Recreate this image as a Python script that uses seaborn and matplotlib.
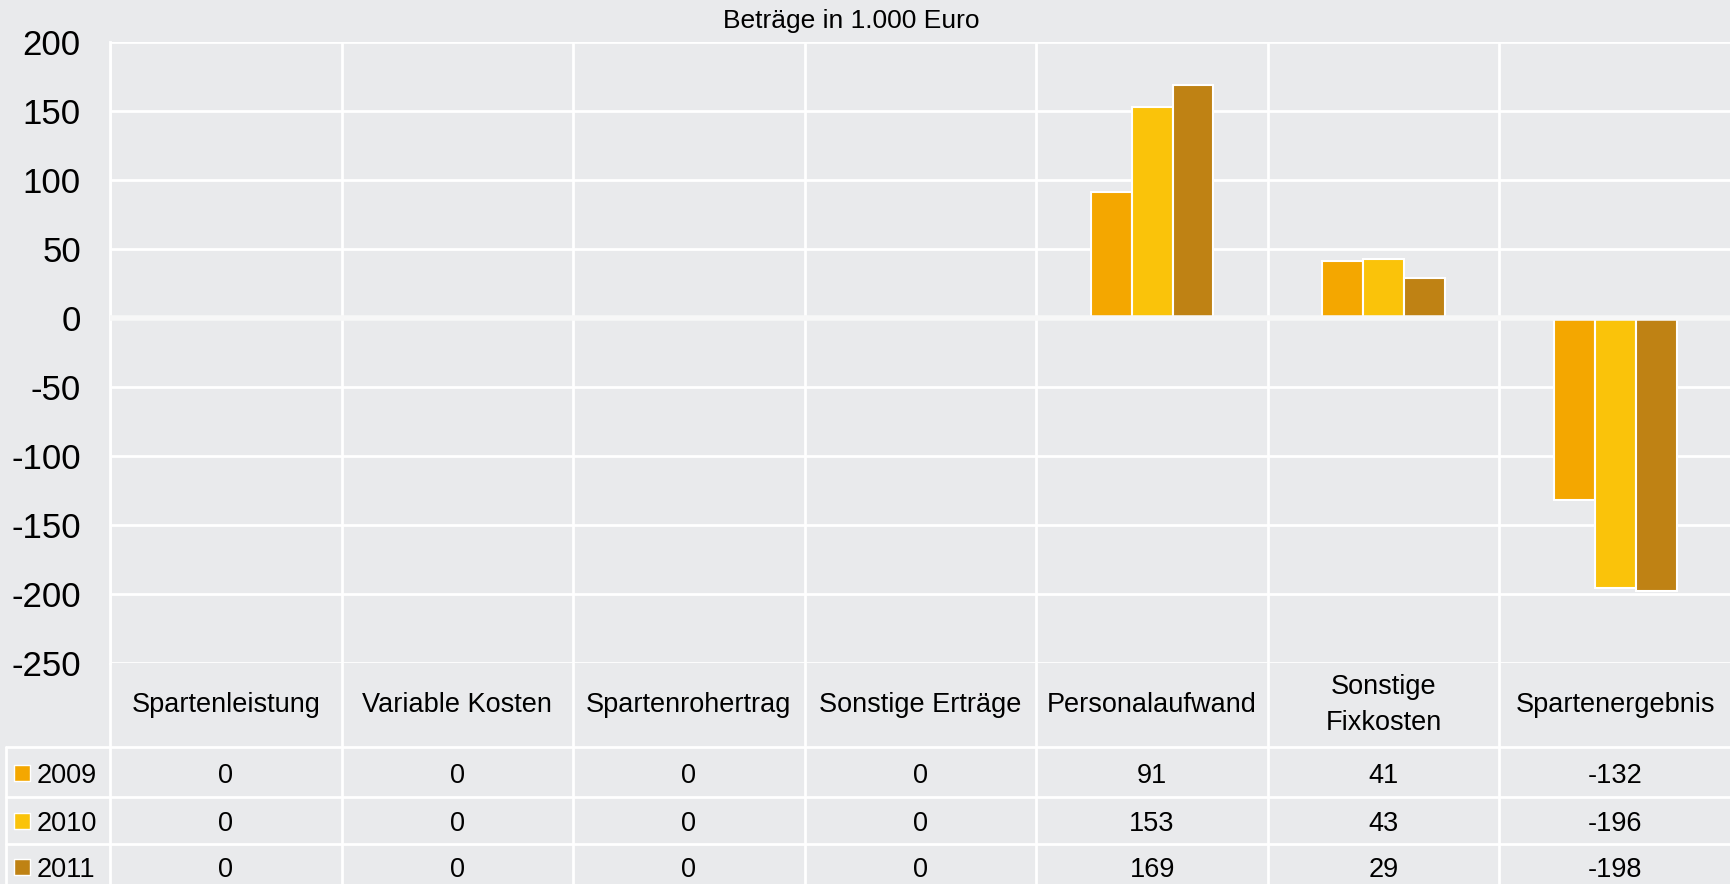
import matplotlib as mpl
import numpy as np
import seaborn as sns
import matplotlib.pyplot as plt
import pandas as pd

sns.set_style('darkgrid', {"axes.facecolor": "#E9EAEC", "figure.facecolor": "#E9EAEC",
                           "grid.color": "white", "text.color": "black"})
plt.rcParams['font.family'] = ['Liberation Sans', 'DejaVu Sans']
plt.rcParams['axes.unicode_minus'] = False

categories = ["Spartenleistung", "Variable Kosten", "Spartenrohertrag", "Sonstige Erträge",
              "Personalaufwand", "Sonstige\nFixkosten", "Spartenergebnis"]
years = ["2009", "2010", "2011"]
v2009 = [0, 0, 0, 0, 91, 41, -132]
v2010 = [0, 0, 0, 0, 153, 43, -196]
v2011 = [0, 0, 0, 0, 169, 29, -198]
colors = ["#F4A700", "#FAC30A", "#BF8214"]

df = pd.DataFrame({"Kategorie": categories * 3,
                   "Jahr": np.repeat(years, len(categories)),
                   "Wert": v2009 + v2010 + v2011})

W, H = 1731, 884
left, top, bottom = 110, 42, 663
colw = (W - left) / len(categories)

fig = plt.figure(figsize=(W / 100, H / 100), dpi=100)
ax = fig.add_axes([left / W, (H - bottom) / H, (W - left) / W, (bottom - top) / H])

sns.barplot(data=df, x="Kategorie", y="Wert", hue="Jahr", palette=colors, width=0.53,
            saturation=1, edgecolor="white", linewidth=1.5, errorbar=None,
            legend=False, ax=ax, zorder=2)

ax.set_xlim(-0.5, 6.5)
ax.set_ylim(-250, 200)
ax.set_yticks(range(-250, 201, 50))
ax.set_xticks([])
ax.set_xticks(np.arange(-0.5, 7, 1), minor=True)
ax.grid(False)
ax.yaxis.grid(True, color="white", lw=2)
ax.xaxis.grid(True, which="minor", color="white", lw=2)
ax.set_axisbelow(True)
ax.axhline(0, color="#F7F7F7", lw=4, zorder=3)
ax.set_xlabel("")
ax.set_ylabel("")
for s in ["top", "right", "bottom"]:
    ax.spines[s].set_visible(False)
ax.spines["left"].set_color("white")
ax.spines["left"].set_linewidth(2)
ax.tick_params(axis="y", labelsize=25, pad=21, length=0, labelcolor="black")
ax.tick_params(axis="x", which="both", length=0)

fig.text(851 / W, 1 - 21 / H, "Beträge in 1.000 Euro", ha="center", va="center",
         fontsize=19, color="black")

# table below the chart
def u(px):
    return -0.5 + (px - left) / colw

tax = fig.add_axes([0, 0, 1, (H - bottom) / H])
tax.set_xlim(u(0), u(W))
tax.set_ylim(H, bottom)
tax.axis("off")

lw = 2
for y in [747, 797, 844]:
    tax.plot([u(6), 6.5], [y, y], color="white", lw=lw)
for x in np.arange(-0.5, 7, 1):
    tax.plot([x, x], [bottom, H], color="white", lw=lw)
tax.plot([u(6), u(6)], [747, H], color="white", lw=lw)

fs = 19.5
for i, cat in enumerate(categories):
    tax.text(i, 705, cat, ha="center", va="center", fontsize=fs, linespacing=1.45,
             color="black")

row_y = [776, 824, 870]
for yr, vals, c, y in zip(years, [v2009, v2010, v2011], colors, row_y):
    tax.scatter([u(22)], [y - 3], marker="s", s=120, color=c, edgecolors="white", linewidths=1)
    tax.text(u(37), y, yr, ha="left", va="center", fontsize=fs, color="black")
    for i, v in enumerate(vals):
        tax.text(i, y, str(v), ha="center", va="center", fontsize=fs, color="black")

plt.savefig("out.png", dpi=100)
